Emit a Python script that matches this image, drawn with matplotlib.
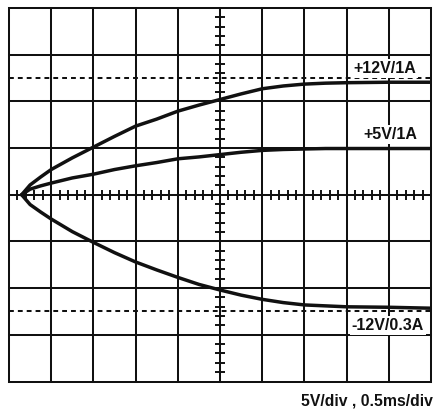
import numpy as np
import matplotlib
matplotlib.use("Agg")
import matplotlib.pyplot as plt

# time in ms (0.5 ms/div), voltages in V (5 V/div)
t_ms = [0.15, 0.25, 0.375, 0.5, 0.75, 1.0, 1.25, 1.5, 1.75, 2.0, 2.25, 2.5,
        2.75, 3.0, 3.25, 3.5, 3.75, 4.0, 4.5, 5.0]
v_p12 = [0, 1.05, 1.9, 2.7, 3.95, 5.1, 6.25, 7.35, 8.1, 8.95, 9.6, 10.2,
         10.8, 11.35, 11.65, 11.85, 11.95, 12.0, 12.05, 12.05]
v_p5 = [0, 0.6, 0.95, 1.25, 1.8, 2.2, 2.7, 3.1, 3.45, 3.85, 4.05, 4.3,
        4.55, 4.75, 4.85, 4.9, 4.95, 4.95, 4.95, 4.95]
v_m12 = [0, -1.05, -1.85, -2.6, -3.95, -5.1, -6.2, -7.2, -8.05, -8.85, -9.6,
         -10.2, -10.75, -11.2, -11.55, -11.8, -11.9, -12.0, -12.05, -12.15]
ref_levels = [12.5, -12.5]
labels = ["+12V/1A", "+5V/1A", "-12V/0.3A"]
label_pos = [(4.45, 13.0), (4.52, 5.97), (4.49, -14.5)]
scale_text = "5V/div , 0.5ms/div"

W, H = 433, 409
fig = plt.figure(figsize=(W / 100, H / 100), dpi=100)
left, right, top, bottom = 9, 431, 8, 381.5
ax = fig.add_axes([left / W, 1 - bottom / H, (right - left) / W, (bottom - top) / H])
xdiv, ydiv = 0.5, 5.0
ax.set_xlim(0, 10 * xdiv)
ax.set_ylim(-4 * ydiv, 4 * ydiv)
ax.axis("off")

glw = 1.45
for i in range(11):
    ax.axvline(i * xdiv, color="#111111", lw=glw, clip_on=False, zorder=1)
for j in range(-4, 5):
    ax.axhline(j * ydiv, color="#111111", lw=glw, clip_on=False, zorder=1)

# center graticule ticks (every 0.2 div)
px_x = (right - left) / (10 * xdiv)
px_y = (bottom - top) / (8 * ydiv)
tlx = 5 / px_x
tly = 5 / px_y
tx = np.arange(0, 10 * xdiv + 1e-9, xdiv / 5)
ty = np.arange(-4 * ydiv, 4 * ydiv + 1e-9, ydiv / 5)
ax.vlines(tx, -tly, tly, color="#111111", lw=1.4, zorder=1)
ax.hlines(ty, 5 * xdiv - tlx, 5 * xdiv + tlx, color="#111111", lw=1.4, zorder=1)

for lv in ref_levels:
    ax.axhline(lv, color="#111111", lw=1.45, linestyle=(0, (2.4, 2.0)), zorder=2)

for v in (v_p12, v_p5, v_m12):
    ax.plot(t_ms, v, color="#111111", lw=2.5, solid_capstyle="round",
            solid_joinstyle="round", zorder=3)

fam = ["Liberation Sans", "DejaVu Sans"]
for txt, (x, y) in zip(labels, label_pos):
    ax.text(x, y, txt, ha="center", va="baseline", fontsize=11.5,
            fontweight="bold", family=fam, color="#111111", zorder=4,
            bbox=dict(facecolor="white", edgecolor="none", pad=1.5))

fig.text(432.5 / W, 1 - 406 / H, scale_text, ha="right", va="baseline",
         fontsize=11.3, fontweight="bold", family=fam, color="#111111")

fig.savefig("out.png", dpi=100, facecolor="white")
